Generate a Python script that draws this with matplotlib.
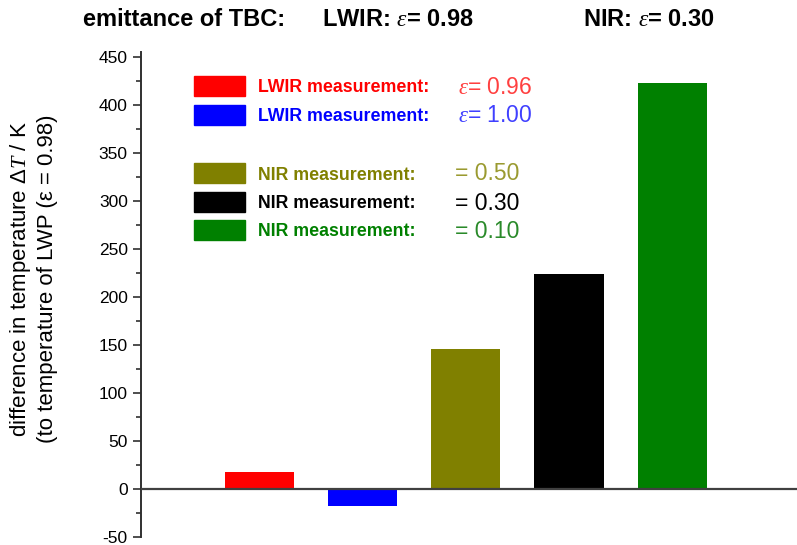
import numpy as np
import matplotlib.pyplot as plt
from matplotlib.ticker import MultipleLocator

# Data
positions = [0, 1, 2, 3, 4]
delta_t = [18, -18, 146, 224, 423]
bar_colors = ['#ff0000', '#0000ff', '#808000', '#000000', '#008000']

legend_labels = ['LWIR measurement:', 'LWIR measurement:',
                 'NIR measurement:', 'NIR measurement:', 'NIR measurement:']
legend_values = [r'$\varepsilon$= 0.96', r'$\varepsilon$= 1.00',
                 '= 0.50', '= 0.30', '= 0.10']
value_colors = ['#ff4040', '#4040ff', '#9a9a30', '#000000', '#2a8a2a']

plt.rcParams['font.family'] = ['Liberation Sans', 'DejaVu Sans']
plt.rcParams['axes.unicode_minus'] = False
plt.rcParams['mathtext.fontset'] = 'custom'
plt.rcParams['mathtext.it'] = 'Liberation Serif:italic'
plt.rcParams['mathtext.rm'] = 'Liberation Sans'

fig = plt.figure(figsize=(7.97, 5.45), dpi=100)
ax = fig.add_axes([141 / 797, 1 - 537 / 545, 1 - 141 / 797, (537 - 52) / 545])

ax.bar(positions, delta_t, width=0.67, color=bar_colors, zorder=2)
ax.axhline(0, color='#404040', lw=1.6, zorder=3)

ax.set_xlim(-1.147, 5.21)
ax.set_ylim(-50, 455)
for s in ['top', 'right', 'bottom']:
    ax.spines[s].set_visible(False)
ax.spines['left'].set_color('#303030')
ax.spines['left'].set_linewidth(1.4)
ax.set_xticks([])
ax.yaxis.set_major_locator(MultipleLocator(50))
ax.yaxis.set_minor_locator(MultipleLocator(25))
ax.tick_params(axis='y', which='major', length=6, width=1.2, labelsize=12.5, color='#303030')
ax.tick_params(axis='y', which='minor', length=3.5, width=1.2, color='#303030')

# y label, placed by hand (it sits a bit above the axes centre in the reference)
fig.text(33 / 797, 1 - 279 / 545,
         'difference in temperature $\\mathit{\\Delta T}$ / K\n(to temperature of LWP (\u03b5 = 0.98)',
         fontsize=16, rotation=90, ha='center', va='center', linespacing=1.2,
         multialignment='center')

# Legend drawn by hand (boxes and coloured text)
box_y = [86, 114.5, 173, 202, 230]
for y, c, lab, val, vc in zip(box_y, bar_colors, legend_labels, legend_values, value_colors):
    fig.patches.append(plt.Rectangle((194 / 797, 1 - (y + 10) / 545), 51 / 797, 20 / 545,
                                     transform=fig.transFigure, color=c, figure=fig))
    fig.text(258 / 797, 1 - (y + 2) / 545, lab, color=c, fontsize=12.8, fontweight='bold', va='center')
    vx = 458 if val.startswith('$') else 455
    fig.text(vx / 797, 1 - (y + 1) / 545, val, color=vc, fontsize=16.5, va='center')

# Header line
hfont = dict(fontsize=17, fontweight='bold', va='center')
fig.text(83 / 797, 1 - 19 / 545, 'emittance of TBC:', **hfont)
fig.text(322 / 797, 1 - 19 / 545, r'LWIR: $\varepsilon$= 0.98', **hfont)
fig.text(583 / 797, 1 - 19 / 545, r'NIR: $\varepsilon$= 0.30', **hfont)

fig.savefig('out.png', dpi=100)
